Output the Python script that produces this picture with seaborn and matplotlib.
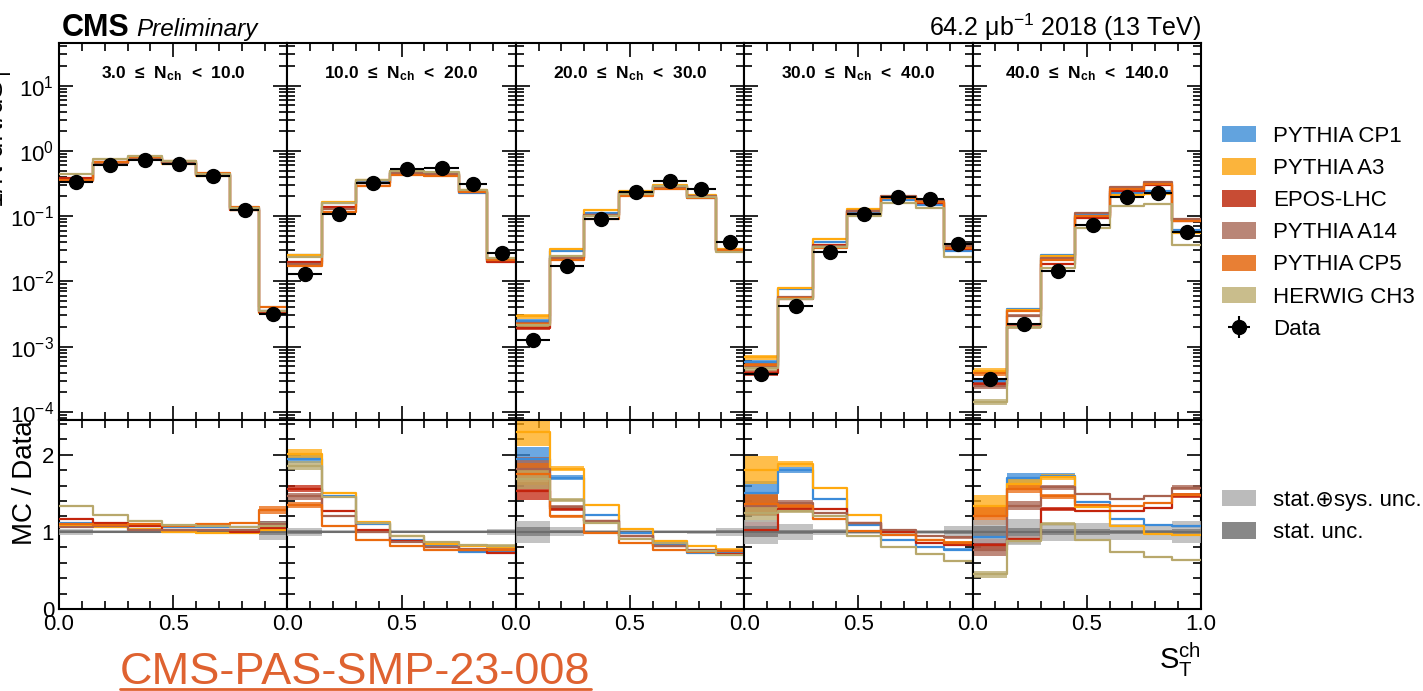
import numpy as np
import pandas as pd
import matplotlib
matplotlib.use("Agg")
import matplotlib.pyplot as plt
from matplotlib.patches import Patch
from matplotlib.lines import Line2D
from matplotlib.ticker import (MultipleLocator, LogLocator, NullFormatter,
                               FixedLocator, FixedFormatter)
import seaborn as sns

sns.set_style("ticks")
plt.rcParams["font.family"] = ["Liberation Sans", "DejaVu Sans"]
plt.rcParams["mathtext.fontset"] = "custom"
plt.rcParams["mathtext.rm"] = "Liberation Sans"
plt.rcParams["mathtext.it"] = "Liberation Sans:italic"
plt.rcParams["mathtext.bf"] = "Liberation Sans:bold"
plt.rcParams["axes.linewidth"] = 1.5
for key in ("text.color", "axes.labelcolor", "axes.edgecolor",
            "xtick.color", "ytick.color"):
    plt.rcParams[key] = "black"

# ---- binning in S_T^ch ----
edges = [0.0, 0.15, 0.30, 0.45, 0.60, 0.75, 0.875, 1.0]
edges_a = np.array(edges)
centers = 0.5 * (edges_a[1:] + edges_a[:-1])
halfw = 0.5 * np.diff(edges_a)

# ---- multiplicity intervals ----
nch_lo = ["3.0", "10.0", "20.0", "30.0", "40.0"]
nch_hi = ["10.0", "20.0", "30.0", "40.0", "140.0"]

# ---- measured distribution (one row per N_ch interval) ----
data_vals = [
    [0.33, 0.61, 0.72, 0.64, 0.415, 0.126, 0.0032],
    [0.0128, 0.108, 0.317, 0.519, 0.537, 0.306, 0.0274],
    [0.00126, 0.0174, 0.0905, 0.236, 0.344, 0.26, 0.0408],
    [0.00038, 0.0042, 0.028, 0.107, 0.199, 0.185, 0.038],
    [0.00032, 0.00223, 0.0144, 0.074, 0.194, 0.226, 0.0566],
]
# relative stat+syst and stat-only uncertainties of the data
data_tot_unc = [
    [0.04, 0.02, 0.02, 0.02, 0.02, 0.03, 0.10],
    [0.05, 0.02, 0.02, 0.02, 0.02, 0.02, 0.04],
    [0.14, 0.06, 0.03, 0.02, 0.02, 0.03, 0.05],
    [0.16, 0.10, 0.04, 0.03, 0.03, 0.03, 0.08],
    [0.15, 0.17, 0.12, 0.12, 0.10, 0.10, 0.14],
]
data_stat_unc = [
    [0.02, 0.01, 0.01, 0.01, 0.01, 0.01, 0.04],
    [0.03, 0.01, 0.01, 0.01, 0.01, 0.01, 0.02],
    [0.06, 0.02, 0.01, 0.01, 0.01, 0.01, 0.02],
    [0.07, 0.03, 0.02, 0.01, 0.01, 0.01, 0.03],
    [0.08, 0.05, 0.04, 0.04, 0.03, 0.03, 0.04],
]

# ---- MC / Data ratios per generator ----
ratio_cp1 = [
    [1.12, 1.09, 1.08, 1.06, 1.06, 1.06, 1.10],
    [1.95, 1.46, 1.10, 0.90, 0.82, 0.74, 0.75],
    [1.95, 1.70, 1.22, 0.99, 0.84, 0.72, 0.73],
    [1.51, 1.80, 1.43, 1.09, 0.90, 0.80, 0.77],
    [0.93, 1.70, 1.73, 1.39, 1.17, 1.09, 1.07],
]
ratio_a3 = [
    [1.07, 1.06, 1.04, 1.00, 0.99, 0.98, 1.02],
    [2.01, 1.50, 1.13, 0.95, 0.84, 0.82, 0.81],
    [2.30, 1.82, 1.35, 1.04, 0.88, 0.82, 0.77],
    [1.80, 1.88, 1.57, 1.22, 1.00, 0.90, 0.86],
    [1.34, 1.62, 1.71, 1.32, 1.07, 0.97, 0.96],
]
ratio_epos = [
    [1.17, 1.11, 1.07, 1.03, 1.03, 1.00, 1.05],
    [1.56, 1.27, 1.03, 0.88, 0.80, 0.77, 0.73],
    [1.53, 1.30, 1.14, 0.95, 0.82, 0.75, 0.71],
    [1.03, 1.30, 1.29, 1.11, 1.00, 0.86, 0.83],
    [0.83, 0.91, 1.30, 1.27, 1.27, 1.31, 1.47],
]
ratio_a14 = [
    [1.06, 1.07, 1.03, 1.03, 1.02, 1.02, 1.10],
    [1.46, 1.21, 1.00, 0.87, 0.81, 0.78, 0.77],
    [1.82, 1.32, 1.14, 0.95, 0.82, 0.77, 0.75],
    [1.34, 1.38, 1.25, 1.12, 1.03, 0.95, 0.93],
    [0.77, 1.34, 1.58, 1.49, 1.43, 1.46, 1.57],
]
ratio_cp5 = [
    [1.10, 1.09, 1.10, 1.08, 1.10, 1.11, 1.28],
    [1.35, 1.08, 0.90, 0.82, 0.77, 0.77, 0.77],
    [1.75, 1.20, 0.99, 0.85, 0.77, 0.74, 0.75],
    [1.36, 1.33, 1.17, 1.01, 0.96, 0.90, 0.86],
    [1.21, 1.56, 1.46, 1.35, 1.34, 1.37, 1.48],
]
ratio_herwig = [
    [1.34, 1.22, 1.14, 1.09, 1.07, 1.06, 1.08],
    [1.86, 1.45, 1.12, 0.94, 0.87, 0.83, 0.82],
    [1.69, 1.41, 1.12, 0.91, 0.85, 0.75, 0.70],
    [1.25, 1.27, 1.20, 0.95, 0.81, 0.71, 0.62],
    [0.45, 0.88, 1.10, 0.90, 0.74, 0.67, 0.63],
]
# relative statistical uncertainty of the simulated samples
mc_rel_unc = [
    [0.01, 0.01, 0.01, 0.01, 0.01, 0.01, 0.04],
    [0.03, 0.01, 0.01, 0.01, 0.01, 0.01, 0.02],
    [0.08, 0.02, 0.01, 0.01, 0.01, 0.01, 0.02],
    [0.10, 0.02, 0.01, 0.01, 0.01, 0.01, 0.02],
    [0.10, 0.04, 0.02, 0.01, 0.01, 0.01, 0.02],
]

generators = ["PYTHIA CP1", "PYTHIA A3", "EPOS-LHC", "PYTHIA A14",
              "PYTHIA CP5", "HERWIG CH3"]
ratios = [ratio_cp1, ratio_a3, ratio_epos, ratio_a14, ratio_cp5, ratio_herwig]
line_colors = ["#3b8bd9", "#ffa90f", "#c3240c", "#a8624f", "#ea6a0e", "#b8a86c"]
patch_colors = ["#62a3de", "#fbb43c", "#c84c34", "#b98677", "#e87f34", "#c9bd8c"]


def ext(a):
    a = np.asarray(a, dtype=float)
    return np.append(a, a[-1])


def step_hist(ax, values, color):
    frame = pd.DataFrame({"st": centers, "w": np.asarray(values, float)})
    sns.histplot(data=frame, x="st", weights="w", bins=edges, element="step",
                 fill=False, color=color, linewidth=1.6, ax=ax, zorder=4)


fig = plt.figure(figsize=(14.23, 6.91), dpi=100)
gs = fig.add_gridspec(2, 5, left=59 / 1423, right=1201 / 1423,
                      top=1 - 43 / 691, bottom=1 - 609 / 691,
                      height_ratios=[377, 189], wspace=0, hspace=0)

data_handle = None
for i in range(5):
    ax = fig.add_subplot(gs[0, i])
    rx = fig.add_subplot(gs[1, i])
    dv = np.asarray(data_vals[i])
    tot = np.asarray(data_tot_unc[i])
    stat = np.asarray(data_stat_unc[i])
    mcu = np.asarray(mc_rel_unc[i])

    for g, name in enumerate(generators):
        r = np.asarray(ratios[g][i])
        mc = r * dv
        # spectrum
        ax.fill_between(edges_a, ext(mc * (1 - mcu)), ext(mc * (1 + mcu)),
                        step="post", color=line_colors[g], alpha=0.75,
                        lw=0, zorder=2)
        step_hist(ax, mc, line_colors[g])
        # ratio
        rx.fill_between(edges_a, ext(r * (1 - mcu)), ext(r * (1 + mcu)),
                        step="post", color=line_colors[g], alpha=0.75,
                        lw=0, zorder=2)
        step_hist(rx, r, line_colors[g])

    # data uncertainty bands around unity
    rx.fill_between(edges_a, ext(1 - tot), ext(1 + tot), step="post",
                    color="#b4b4b4", alpha=0.8, lw=0, zorder=3)
    rx.fill_between(edges_a, ext(1 - stat), ext(1 + stat), step="post",
                    color="#7c7c7c", alpha=0.8, lw=0, zorder=3.1)
    rx.axhline(1.0, color="#6e6e6e", lw=1.5, zorder=3.2)

    eb = ax.errorbar(centers, dv, xerr=halfw, yerr=dv * tot, fmt="o",
                     color="black", ms=10, elinewidth=1.5, capsize=0,
                     zorder=10)
    if data_handle is None:
        data_handle = eb

    ax.text(0.5, 0.92, f"{nch_lo[i]}  ≤  N$_{{\\mathbf{{ch}}}}$  <  {nch_hi[i]}",
            transform=ax.transAxes, ha="center", va="center",
            fontsize=12.5, fontweight="bold")

    # axes cosmetics
    ax.set_yscale("log")
    ax.set_xlim(0, 1)
    ax.set_ylim(7.5e-5, 45)
    rx.set_xlim(0, 1)
    rx.set_ylim(0, 2.45)
    for a in (ax, rx):
        a.set_xlabel("")
        a.set_ylabel("")
        a.xaxis.set_major_locator(FixedLocator([0.0, 0.5, 1.0]))
        a.xaxis.set_minor_locator(MultipleLocator(0.1))
        a.tick_params(which="both", direction="in", top=True, right=True,
                      labelsize=16, width=1.2)
        a.tick_params(which="major", length=10)
        a.tick_params(which="minor", length=6)
    ax.yaxis.set_major_locator(LogLocator(base=10, numticks=20))
    ax.yaxis.set_minor_locator(LogLocator(base=10, subs=np.arange(2, 10),
                                          numticks=100))
    ax.yaxis.set_minor_formatter(NullFormatter())
    ax.tick_params(axis="x", labelbottom=False)
    rx.yaxis.set_major_locator(MultipleLocator(1))
    rx.yaxis.set_minor_locator(MultipleLocator(0.2))
    if i < 4:
        rx.xaxis.set_major_formatter(FixedFormatter(["0.0", "0.5", ""]))
    else:
        rx.xaxis.set_major_formatter(FixedFormatter(["0.0", "0.5", "1.0"]))
    if i > 0:
        ax.tick_params(axis="y", labelleft=False)
        rx.tick_params(axis="y", labelleft=False)
    else:
        ax.set_ylabel("1/N dN/dS$_\\mathrm{T}^\\mathrm{ch}$", fontsize=20,
                      loc="top")
        ax.yaxis.set_label_coords(-0.2, 0.96)
        rx.set_ylabel("MC / Data", fontsize=20, loc="top")
        rx.yaxis.set_label_coords(-0.09, 1.0)
    if i == 4:
        rx.set_xlabel("S$_\\mathrm{T}^\\mathrm{ch}$", fontsize=21, loc="right",
                      labelpad=4)

# header
fig.text(62 / 1423, 1 - 36 / 691, "CMS", fontsize=22, fontweight="bold",
         va="baseline")
fig.text(136 / 1423, 1 - 36 / 691, "Preliminary", fontsize=17.5,
         fontstyle="italic", va="baseline")
fig.text(1201 / 1423, 1 - 36 / 691, "64.2 μb$^{-1}$ 2018 (13 TeV)",
         fontsize=18, ha="right", va="baseline")

# legends
handles = [Patch(facecolor=c, edgecolor="none") for c in patch_colors]
handles.append(data_handle)
fig.legend(handles, generators + ["Data"], loc="upper left",
           bbox_to_anchor=(1222 / 1423, 1 - 126 / 691), frameon=False,
           fontsize=16, handlelength=1.55, handleheight=0.75,
           labelspacing=0.5, handletextpad=0.75, borderpad=0,
           borderaxespad=0)
fig.legend([Patch(facecolor="#bbbbbb", edgecolor="none"),
            Patch(facecolor="#888888", edgecolor="none")],
           ["stat.⊕sys. unc.", "stat. unc."], loc="upper left",
           bbox_to_anchor=(1222 / 1423, 1 - 490 / 691), frameon=False,
           fontsize=16, handlelength=1.55, handleheight=0.75,
           labelspacing=0.5, handletextpad=0.75, borderpad=0,
           borderaxespad=0)

# analysis reference, underlined
ref = fig.text(120 / 1423, 1 - 684 / 691, "CMS-PAS-SMP-23-008",
               fontsize=32.5, color="#df6230", va="baseline")
fig.canvas.draw()
bb = ref.get_window_extent().transformed(fig.transFigure.inverted())
fig.add_artist(Line2D([bb.x0, bb.x1], [1 - 689 / 691, 1 - 689 / 691],
                      color="#df6230", lw=2, transform=fig.transFigure))

fig.savefig("out.png", dpi=100)
